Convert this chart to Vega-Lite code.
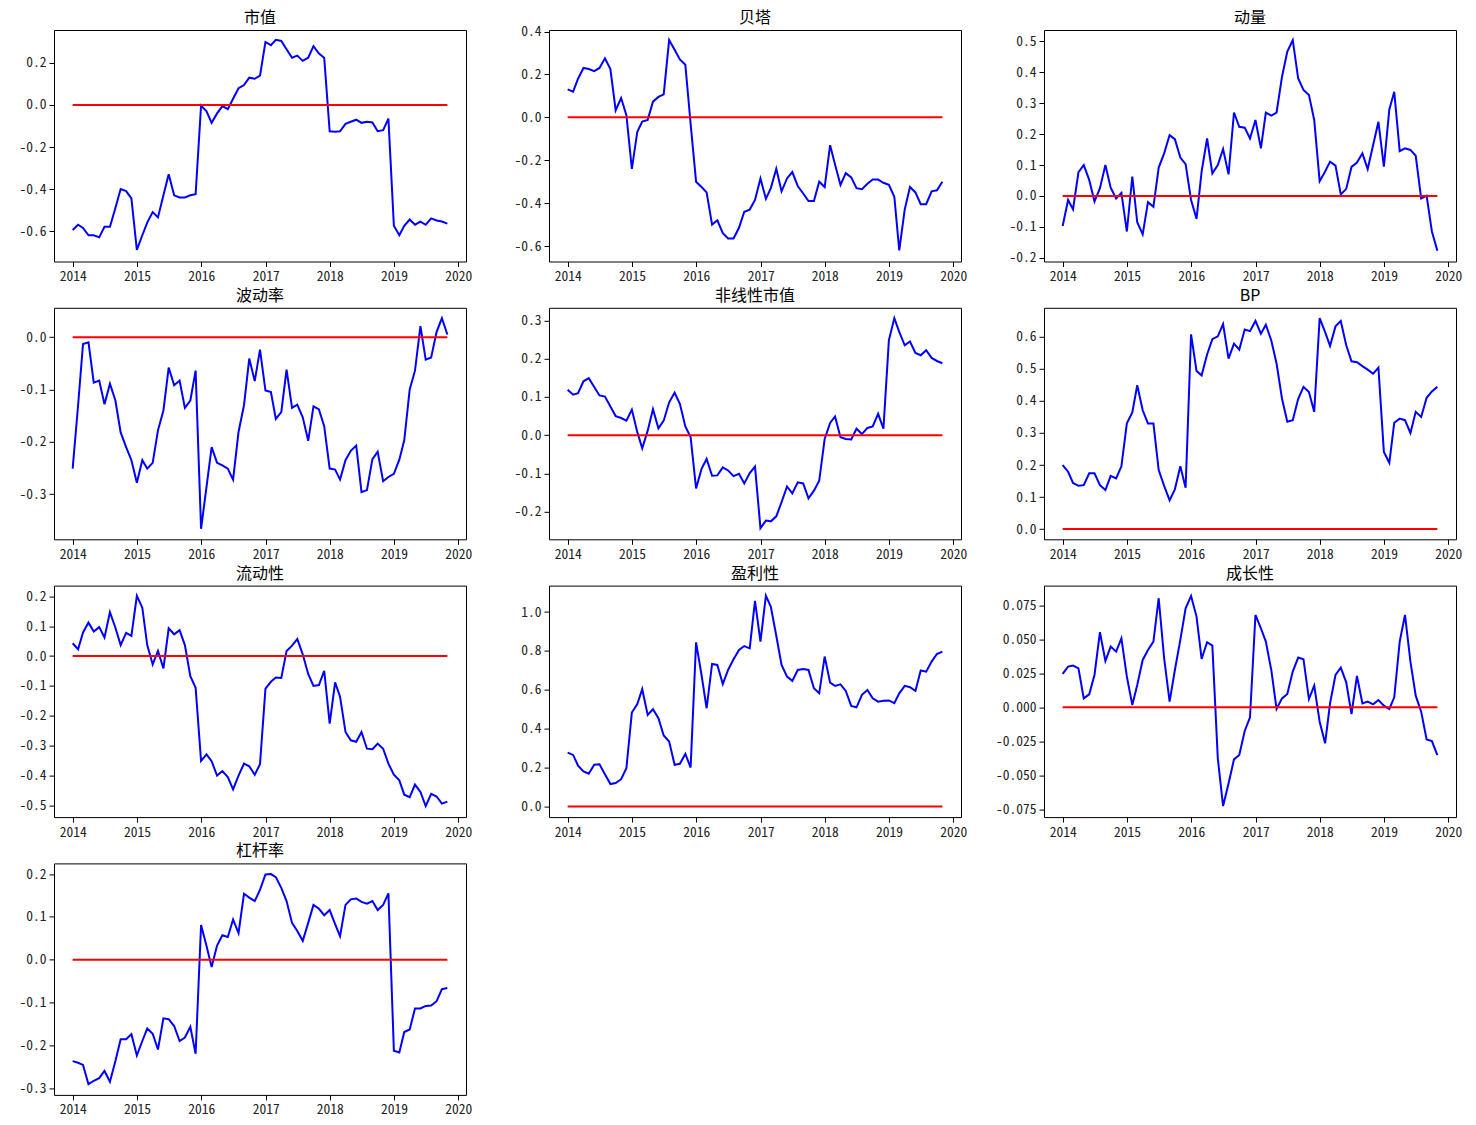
{
"$schema": "https://vega.github.io/schema/vega-lite/v6.json",
"padding": {"left": 18, "top": 9, "right": 5, "bottom": 5},
"background": "white",
"data": {"values": [
{"date":"2013-12-31","size":-0.595,"beta":0.13,"momentum":-0.097,"volatility":-0.251,"nonlinear":0.119,"bp":0.20,"liquidity":0.043,"profit":0.277,"growth":0.0246,"leverage":-0.237},
{"date":"2014-01-31","size":-0.57,"beta":0.12,"momentum":-0.013,"volatility":-0.13,"nonlinear":0.106,"bp":0.179,"liquidity":0.023,"profit":0.265,"growth":0.030,"leverage":-0.241},
{"date":"2014-02-28","size":-0.585,"beta":0.18,"momentum":-0.043,"volatility":-0.013,"nonlinear":0.11,"bp":0.144,"liquidity":0.079,"profit":0.21,"growth":0.0307,"leverage":-0.246},
{"date":"2014-03-31","size":-0.62,"beta":0.23,"momentum":0.077,"volatility":-0.01,"nonlinear":0.141,"bp":0.135,"liquidity":0.112,"profit":0.18,"growth":0.0287,"leverage":-0.291},
{"date":"2014-04-30","size":-0.62,"beta":0.225,"momentum":0.10,"volatility":-0.087,"nonlinear":0.149,"bp":0.137,"liquidity":0.082,"profit":0.168,"growth":0.0066,"leverage":-0.283},
{"date":"2014-05-31","size":-0.63,"beta":0.215,"momentum":0.052,"volatility":-0.083,"nonlinear":0.126,"bp":0.174,"liquidity":0.097,"profit":0.214,"growth":0.0096,"leverage":-0.277},
{"date":"2014-06-30","size":-0.58,"beta":0.23,"momentum":-0.018,"volatility":-0.128,"nonlinear":0.104,"bp":0.174,"liquidity":0.062,"profit":0.217,"growth":0.0238,"leverage":-0.26},
{"date":"2014-07-31","size":-0.58,"beta":0.275,"momentum":0.025,"volatility":-0.089,"nonlinear":0.101,"bp":0.137,"liquidity":0.147,"profit":0.166,"growth":0.0553,"leverage":-0.285},
{"date":"2014-08-31","size":-0.49,"beta":0.225,"momentum":0.10,"volatility":-0.121,"nonlinear":0.075,"bp":0.122,"liquidity":0.095,"profit":0.115,"growth":0.0341,"leverage":-0.237},
{"date":"2014-09-30","size":-0.40,"beta":0.033,"momentum":0.027,"volatility":-0.182,"nonlinear":0.05,"bp":0.166,"liquidity":0.037,"profit":0.12,"growth":0.0447,"leverage":-0.186},
{"date":"2014-10-31","size":-0.41,"beta":0.09,"momentum":-0.008,"volatility":-0.21,"nonlinear":0.045,"bp":0.158,"liquidity":0.078,"profit":0.14,"growth":0.041,"leverage":-0.186},
{"date":"2014-11-30","size":-0.445,"beta":0.01,"momentum":0.01,"volatility":-0.235,"nonlinear":0.038,"bp":0.196,"liquidity":0.068,"profit":0.197,"growth":0.0508,"leverage":-0.174},
{"date":"2014-12-31","size":-0.69,"beta":-0.24,"momentum":-0.115,"volatility":-0.278,"nonlinear":0.067,"bp":0.33,"liquidity":0.202,"profit":0.483,"growth":0.0226,"leverage":-0.224},
{"date":"2015-01-31","size":-0.62,"beta":-0.067,"momentum":0.063,"volatility":-0.235,"nonlinear":0.008,"bp":0.364,"liquidity":0.162,"profit":0.526,"growth":0.0017,"leverage":-0.19},
{"date":"2015-02-28","size":-0.56,"beta":-0.02,"momentum":-0.085,"volatility":-0.251,"nonlinear":-0.034,"bp":0.449,"liquidity":0.037,"profit":0.603,"growth":0.0165,"leverage":-0.161},
{"date":"2015-03-31","size":-0.51,"beta":-0.012,"momentum":-0.124,"volatility":-0.24,"nonlinear":0.012,"bp":0.371,"liquidity":-0.028,"profit":0.471,"growth":0.0349,"leverage":-0.173},
{"date":"2015-04-30","size":-0.535,"beta":0.073,"momentum":-0.02,"volatility":-0.178,"nonlinear":0.068,"bp":0.33,"liquidity":0.017,"profit":0.50,"growth":0.0422,"leverage":-0.21},
{"date":"2015-05-31","size":-0.43,"beta":0.095,"momentum":-0.035,"volatility":-0.14,"nonlinear":0.018,"bp":0.33,"liquidity":-0.041,"profit":0.454,"growth":0.0484,"leverage":-0.137},
{"date":"2015-06-30","size":-0.33,"beta":0.107,"momentum":0.092,"volatility":-0.058,"nonlinear":0.038,"bp":0.184,"liquidity":0.093,"profit":0.365,"growth":0.0803,"leverage":-0.139},
{"date":"2015-07-31","size":-0.43,"beta":0.36,"momentum":0.138,"volatility":-0.092,"nonlinear":0.086,"bp":0.135,"liquidity":0.073,"profit":0.334,"growth":0.0361,"leverage":-0.155},
{"date":"2015-08-31","size":-0.44,"beta":0.315,"momentum":0.197,"volatility":-0.083,"nonlinear":0.111,"bp":0.09,"liquidity":0.087,"profit":0.214,"growth":0.0042,"leverage":-0.19},
{"date":"2015-09-30","size":-0.44,"beta":0.27,"momentum":0.184,"volatility":-0.135,"nonlinear":0.082,"bp":0.124,"liquidity":0.037,"profit":0.219,"growth":0.0275,"leverage":-0.182},
{"date":"2015-10-31","size":-0.43,"beta":0.245,"momentum":0.124,"volatility":-0.121,"nonlinear":0.023,"bp":0.196,"liquidity":-0.067,"profit":0.27,"growth":0.0496,"leverage":-0.157},
{"date":"2015-11-30","size":-0.425,"beta":-0.03,"momentum":0.103,"volatility":-0.064,"nonlinear":-0.005,"bp":0.129,"liquidity":-0.106,"profit":0.20,"growth":0.0729,"leverage":-0.22},
{"date":"2015-12-31","size":-0.003,"beta":-0.30,"momentum":-0.013,"volatility":-0.366,"nonlinear":-0.139,"bp":0.608,"liquidity":-0.351,"profit":0.844,"growth":0.082,"leverage":0.081},
{"date":"2016-01-31","size":-0.03,"beta":-0.325,"momentum":-0.074,"volatility":-0.286,"nonlinear":-0.088,"bp":0.494,"liquidity":-0.329,"profit":0.676,"growth":0.0668,"leverage":0.032},
{"date":"2016-02-29","size":-0.085,"beta":-0.35,"momentum":0.079,"volatility":-0.21,"nonlinear":-0.062,"bp":0.48,"liquidity":-0.352,"profit":0.505,"growth":0.0356,"leverage":-0.017},
{"date":"2016-03-31","size":-0.04,"beta":-0.50,"momentum":0.186,"volatility":-0.24,"nonlinear":-0.106,"bp":0.545,"liquidity":-0.40,"profit":0.733,"growth":0.0479,"leverage":0.033},
{"date":"2016-04-30","size":-0.005,"beta":-0.48,"momentum":0.073,"volatility":-0.245,"nonlinear":-0.105,"bp":0.593,"liquidity":-0.385,"profit":0.728,"growth":0.0454,"leverage":0.057},
{"date":"2016-05-31","size":-0.02,"beta":-0.54,"momentum":0.10,"volatility":-0.251,"nonlinear":-0.084,"bp":0.602,"liquidity":-0.405,"profit":0.63,"growth":-0.0376,"leverage":0.053},
{"date":"2016-06-30","size":0.03,"beta":-0.565,"momentum":0.152,"volatility":-0.272,"nonlinear":-0.092,"bp":0.64,"liquidity":-0.446,"profit":0.702,"growth":-0.0727,"leverage":0.094},
{"date":"2016-07-31","size":0.08,"beta":-0.565,"momentum":0.07,"volatility":-0.181,"nonlinear":-0.107,"bp":0.532,"liquidity":-0.40,"profit":0.757,"growth":-0.056,"leverage":0.062},
{"date":"2016-08-31","size":0.095,"beta":-0.515,"momentum":0.27,"volatility":-0.13,"nonlinear":-0.101,"bp":0.579,"liquidity":-0.36,"profit":0.805,"growth":-0.0383,"leverage":0.154},
{"date":"2016-09-30","size":0.13,"beta":-0.44,"momentum":0.224,"volatility":-0.041,"nonlinear":-0.126,"bp":0.56,"liquidity":-0.369,"profit":0.825,"growth":-0.0351,"leverage":0.145},
{"date":"2016-10-31","size":0.125,"beta":-0.43,"momentum":0.221,"volatility":-0.084,"nonlinear":-0.099,"bp":0.623,"liquidity":-0.397,"profit":0.813,"growth":-0.0174,"leverage":0.137},
{"date":"2016-11-30","size":0.14,"beta":-0.385,"momentum":0.186,"volatility":-0.024,"nonlinear":-0.082,"bp":0.618,"liquidity":-0.362,"profit":1.057,"growth":-0.0074,"leverage":0.163},
{"date":"2016-12-31","size":0.30,"beta":-0.285,"momentum":0.246,"volatility":-0.102,"nonlinear":-0.243,"bp":0.65,"liquidity":-0.109,"profit":0.848,"growth":0.068,"leverage":0.199},
{"date":"2017-01-31","size":0.285,"beta":-0.38,"momentum":0.154,"volatility":-0.105,"nonlinear":-0.223,"bp":0.61,"liquidity":-0.086,"profit":1.084,"growth":0.0582,"leverage":0.20},
{"date":"2017-02-28","size":0.31,"beta":-0.33,"momentum":0.27,"volatility":-0.156,"nonlinear":-0.225,"bp":0.638,"liquidity":-0.072,"profit":1.027,"growth":0.0484,"leverage":0.193},
{"date":"2017-03-31","size":0.305,"beta":-0.24,"momentum":0.26,"volatility":-0.143,"nonlinear":-0.212,"bp":0.589,"liquidity":-0.073,"profit":0.878,"growth":0.0275,"leverage":0.168},
{"date":"2017-04-30","size":0.265,"beta":-0.345,"momentum":0.27,"volatility":-0.062,"nonlinear":-0.175,"bp":0.517,"liquidity":0.017,"profit":0.728,"growth":-0.0012,"leverage":0.137},
{"date":"2017-05-31","size":0.225,"beta":-0.285,"momentum":0.386,"volatility":-0.135,"nonlinear":-0.134,"bp":0.407,"liquidity":0.035,"profit":0.668,"growth":0.0066,"leverage":0.086},
{"date":"2017-06-30","size":0.235,"beta":-0.255,"momentum":0.467,"volatility":-0.129,"nonlinear":-0.152,"bp":0.335,"liquidity":0.057,"profit":0.646,"growth":0.0098,"leverage":0.067},
{"date":"2017-07-31","size":0.21,"beta":-0.32,"momentum":0.504,"volatility":-0.153,"nonlinear":-0.123,"bp":0.34,"liquidity":0.006,"profit":0.702,"growth":0.0263,"leverage":0.044},
{"date":"2017-08-31","size":0.225,"beta":-0.355,"momentum":0.38,"volatility":-0.198,"nonlinear":-0.126,"bp":0.407,"liquidity":-0.06,"profit":0.707,"growth":0.0366,"leverage":0.086},
{"date":"2017-09-30","size":0.28,"beta":-0.39,"momentum":0.343,"volatility":-0.132,"nonlinear":-0.165,"bp":0.444,"liquidity":-0.10,"profit":0.702,"growth":0.0354,"leverage":0.128},
{"date":"2017-10-31","size":0.245,"beta":-0.39,"momentum":0.327,"volatility":-0.138,"nonlinear":-0.145,"bp":0.428,"liquidity":-0.097,"profit":0.608,"growth":0.0061,"leverage":0.119},
{"date":"2017-11-30","size":0.225,"beta":-0.30,"momentum":0.246,"volatility":-0.17,"nonlinear":-0.119,"bp":0.366,"liquidity":-0.049,"profit":0.582,"growth":0.016,"leverage":0.104},
{"date":"2017-12-31","size":-0.125,"beta":-0.325,"momentum":0.048,"volatility":-0.251,"nonlinear":-0.01,"bp":0.659,"liquidity":-0.226,"profit":0.771,"growth":-0.0106,"leverage":0.116},
{"date":"2018-01-31","size":-0.127,"beta":-0.13,"momentum":0.079,"volatility":-0.253,"nonlinear":0.032,"bp":0.615,"liquidity":-0.088,"profit":0.637,"growth":-0.0265,"leverage":0.083},
{"date":"2018-02-28","size":-0.125,"beta":-0.22,"momentum":0.111,"volatility":-0.272,"nonlinear":0.049,"bp":0.572,"liquidity":-0.136,"profit":0.62,"growth":0.0029,"leverage":0.055},
{"date":"2018-03-31","size":-0.09,"beta":-0.315,"momentum":0.098,"volatility":-0.235,"nonlinear":-0.005,"bp":0.633,"liquidity":-0.254,"profit":0.628,"growth":0.0238,"leverage":0.128},
{"date":"2018-04-30","size":-0.08,"beta":-0.26,"momentum":0.005,"volatility":-0.217,"nonlinear":-0.01,"bp":0.65,"liquidity":-0.282,"profit":0.594,"growth":0.0292,"leverage":0.141},
{"date":"2018-05-31","size":-0.07,"beta":-0.28,"momentum":0.023,"volatility":-0.207,"nonlinear":-0.011,"bp":0.574,"liquidity":-0.287,"profit":0.517,"growth":0.0184,"leverage":0.143},
{"date":"2018-06-30","size":-0.085,"beta":-0.33,"momentum":0.094,"volatility":-0.296,"nonlinear":0.017,"bp":0.524,"liquidity":-0.254,"profit":0.51,"growth":-0.0049,"leverage":0.135},
{"date":"2018-07-31","size":-0.08,"beta":-0.335,"momentum":0.108,"volatility":-0.292,"nonlinear":0.003,"bp":0.521,"liquidity":-0.31,"profit":0.574,"growth":0.0231,"leverage":0.131},
{"date":"2018-08-31","size":-0.083,"beta":-0.31,"momentum":0.138,"volatility":-0.233,"nonlinear":0.019,"bp":0.509,"liquidity":-0.312,"profit":0.599,"growth":0.0029,"leverage":0.137},
{"date":"2018-09-30","size":-0.125,"beta":-0.29,"momentum":0.087,"volatility":-0.219,"nonlinear":0.023,"bp":0.498,"liquidity":-0.293,"profit":0.556,"growth":0.0042,"leverage":0.116},
{"date":"2018-10-31","size":-0.12,"beta":-0.29,"momentum":0.165,"volatility":-0.275,"nonlinear":0.056,"bp":0.485,"liquidity":-0.31,"profit":0.539,"growth":0.0022,"leverage":0.128},
{"date":"2018-11-30","size":-0.065,"beta":-0.305,"momentum":0.24,"volatility":-0.267,"nonlinear":0.017,"bp":0.504,"liquidity":-0.36,"profit":0.543,"growth":0.0054,"leverage":0.155},
{"date":"2018-12-31","size":-0.575,"beta":-0.315,"momentum":0.095,"volatility":-0.261,"nonlinear":0.248,"bp":0.241,"liquidity":-0.397,"profit":0.545,"growth":0.0012,"leverage":-0.213},
{"date":"2019-01-31","size":-0.62,"beta":-0.37,"momentum":0.28,"volatility":-0.234,"nonlinear":0.306,"bp":0.207,"liquidity":-0.416,"profit":0.531,"growth":-0.0012,"leverage":-0.217},
{"date":"2019-02-28","size":-0.575,"beta":-0.62,"momentum":0.337,"volatility":-0.197,"nonlinear":0.27,"bp":0.332,"liquidity":-0.464,"profit":0.582,"growth":0.0074,"leverage":-0.169},
{"date":"2019-03-31","size":-0.545,"beta":-0.43,"momentum":0.145,"volatility":-0.10,"nonlinear":0.235,"bp":0.345,"liquidity":-0.472,"profit":0.62,"growth":0.0484,"leverage":-0.163},
{"date":"2019-04-30","size":-0.57,"beta":-0.325,"momentum":0.154,"volatility":-0.064,"nonlinear":0.245,"bp":0.34,"liquidity":-0.43,"profit":0.613,"growth":0.068,"leverage":-0.114},
{"date":"2019-05-31","size":-0.555,"beta":-0.35,"momentum":0.149,"volatility":0.021,"nonlinear":0.215,"bp":0.30,"liquidity":-0.455,"profit":0.594,"growth":0.0336,"leverage":-0.114},
{"date":"2019-06-30","size":-0.57,"beta":-0.405,"momentum":0.13,"volatility":-0.043,"nonlinear":0.209,"bp":0.366,"liquidity":-0.502,"profit":0.699,"growth":0.0086,"leverage":-0.108},
{"date":"2019-07-31","size":-0.54,"beta":-0.405,"momentum":-0.008,"volatility":-0.039,"nonlinear":0.222,"bp":0.35,"liquidity":-0.461,"profit":0.693,"growth":-0.0032,"leverage":-0.107},
{"date":"2019-08-31","size":-0.55,"beta":-0.345,"momentum":0.001,"volatility":0.01,"nonlinear":0.202,"bp":0.41,"liquidity":-0.47,"profit":0.745,"growth":-0.0236,"leverage":-0.097},
{"date":"2019-09-30","size":-0.555,"beta":-0.34,"momentum":-0.115,"volatility":0.036,"nonlinear":0.194,"bp":0.43,"liquidity":-0.494,"profit":0.784,"growth":-0.0248,"leverage":-0.069},
{"date":"2019-10-31","size":-0.565,"beta":-0.30,"momentum":-0.177,"volatility":0.005,"nonlinear":0.188,"bp":0.444,"liquidity":-0.487,"profit":0.796,"growth":-0.0351,"leverage":-0.066}
]},
"columns": 3,
"spacing": {"row": 45.8, "column": 83},
"bounds": "flush",
"concat": [
{"title": "市值", "width": 412, "height": 231.5,
 "encoding": {"x": {"field": "date", "type": "temporal", "scale": {"type": "utc", "domain": [{"year": 2013, "month": 9, "date": 16, "utc": true}, {"year": 2020, "month": 2, "date": 14, "utc": true}], "nice": false}, "axis": {"title": null, "format": "%Y", "tickCount": {"interval": "year", "step": 1}}}},
 "layer": [
  {"mark": {"type": "line", "color": "#0000ff", "strokeWidth": 2}, "encoding": {"y": {"field": "size", "type": "quantitative", "scale": {"domain": [-0.745, 0.357], "nice": false, "zero": false}, "axis": {"title": null, "values": [-0.6, -0.4, -0.2, 0, 0.2], "format": ".1f"}}}},
  {"mark": {"type": "line", "color": "#ff0000", "strokeWidth": 2}, "encoding": {"y": {"datum": 0, "type": "quantitative", "axis": {"title": null, "values": [-0.6, -0.4, -0.2, 0, 0.2], "format": ".1f"}}}}
 ]},
{"title": {"text": "贝塔", "dy": 5}, "width": 412, "height": 231.5,
 "encoding": {"x": {"field": "date", "type": "temporal", "scale": {"type": "utc", "domain": [{"year": 2013, "month": 9, "date": 16, "utc": true}, {"year": 2020, "month": 2, "date": 14, "utc": true}], "nice": false}, "axis": {"title": null, "format": "%Y", "tickCount": {"interval": "year", "step": 1}}}},
 "layer": [
  {"mark": {"type": "line", "color": "#0000ff", "strokeWidth": 2}, "encoding": {"y": {"field": "beta", "type": "quantitative", "scale": {"domain": [-0.672, 0.407], "nice": false, "zero": false}, "axis": {"title": null, "values": [-0.6, -0.4, -0.2, 0, 0.2, 0.4], "format": ".1f"}}}},
  {"mark": {"type": "line", "color": "#ff0000", "strokeWidth": 2}, "encoding": {"y": {"datum": 0, "type": "quantitative", "axis": {"title": null, "values": [-0.6, -0.4, -0.2, 0, 0.2, 0.4], "format": ".1f"}}}}
 ]},
{"title": "动量", "width": 412, "height": 231.5,
 "encoding": {"x": {"field": "date", "type": "temporal", "scale": {"type": "utc", "domain": [{"year": 2013, "month": 9, "date": 16, "utc": true}, {"year": 2020, "month": 2, "date": 14, "utc": true}], "nice": false}, "axis": {"title": null, "format": "%Y", "tickCount": {"interval": "year", "step": 1}}}},
 "layer": [
  {"mark": {"type": "line", "color": "#0000ff", "strokeWidth": 2}, "encoding": {"y": {"field": "momentum", "type": "quantitative", "scale": {"domain": [-0.212, 0.537], "nice": false, "zero": false}, "axis": {"title": null, "values": [-0.2, -0.1, 0, 0.1, 0.2, 0.3, 0.4, 0.5], "format": ".1f"}}}},
  {"mark": {"type": "line", "color": "#ff0000", "strokeWidth": 2}, "encoding": {"y": {"datum": 0, "type": "quantitative", "axis": {"title": null, "values": [-0.2, -0.1, 0, 0.1, 0.2, 0.3, 0.4, 0.5], "format": ".1f"}}}}
 ]},
{"title": "波动率", "width": 412, "height": 231.5,
 "encoding": {"x": {"field": "date", "type": "temporal", "scale": {"type": "utc", "domain": [{"year": 2013, "month": 9, "date": 16, "utc": true}, {"year": 2020, "month": 2, "date": 14, "utc": true}], "nice": false}, "axis": {"title": null, "format": "%Y", "tickCount": {"interval": "year", "step": 1}}}},
 "layer": [
  {"mark": {"type": "line", "color": "#0000ff", "strokeWidth": 2}, "encoding": {"y": {"field": "volatility", "type": "quantitative", "scale": {"domain": [-0.386, 0.056], "nice": false, "zero": false}, "axis": {"title": null, "values": [-0.3, -0.2, -0.1, 0], "format": ".1f"}}}},
  {"mark": {"type": "line", "color": "#ff0000", "strokeWidth": 2}, "encoding": {"y": {"datum": 0, "type": "quantitative", "axis": {"title": null, "values": [-0.3, -0.2, -0.1, 0], "format": ".1f"}}}}
 ]},
{"title": "非线性市值", "width": 412, "height": 231.5,
 "encoding": {"x": {"field": "date", "type": "temporal", "scale": {"type": "utc", "domain": [{"year": 2013, "month": 9, "date": 16, "utc": true}, {"year": 2020, "month": 2, "date": 14, "utc": true}], "nice": false}, "axis": {"title": null, "format": "%Y", "tickCount": {"interval": "year", "step": 1}}}},
 "layer": [
  {"mark": {"type": "line", "color": "#0000ff", "strokeWidth": 2}, "encoding": {"y": {"field": "nonlinear", "type": "quantitative", "scale": {"domain": [-0.272, 0.333], "nice": false, "zero": false}, "axis": {"title": null, "values": [-0.2, -0.1, 0, 0.1, 0.2, 0.3], "format": ".1f"}}}},
  {"mark": {"type": "line", "color": "#ff0000", "strokeWidth": 2}, "encoding": {"y": {"datum": 0, "type": "quantitative", "axis": {"title": null, "values": [-0.2, -0.1, 0, 0.1, 0.2, 0.3], "format": ".1f"}}}}
 ]},
{"title": "BP", "width": 412, "height": 231.5,
 "encoding": {"x": {"field": "date", "type": "temporal", "scale": {"type": "utc", "domain": [{"year": 2013, "month": 9, "date": 16, "utc": true}, {"year": 2020, "month": 2, "date": 14, "utc": true}], "nice": false}, "axis": {"title": null, "format": "%Y", "tickCount": {"interval": "year", "step": 1}}}},
 "layer": [
  {"mark": {"type": "line", "color": "#0000ff", "strokeWidth": 2}, "encoding": {"y": {"field": "bp", "type": "quantitative", "scale": {"domain": [-0.032, 0.691], "nice": false, "zero": false}, "axis": {"title": null, "values": [0, 0.1, 0.2, 0.3, 0.4, 0.5, 0.6], "format": ".1f"}}}},
  {"mark": {"type": "line", "color": "#ff0000", "strokeWidth": 2}, "encoding": {"y": {"datum": 0, "type": "quantitative", "axis": {"title": null, "values": [0, 0.1, 0.2, 0.3, 0.4, 0.5, 0.6], "format": ".1f"}}}}
 ]},
{"title": "流动性", "width": 412, "height": 231.5,
 "encoding": {"x": {"field": "date", "type": "temporal", "scale": {"type": "utc", "domain": [{"year": 2013, "month": 9, "date": 16, "utc": true}, {"year": 2020, "month": 2, "date": 14, "utc": true}], "nice": false}, "axis": {"title": null, "format": "%Y", "tickCount": {"interval": "year", "step": 1}}}},
 "layer": [
  {"mark": {"type": "line", "color": "#0000ff", "strokeWidth": 2}, "encoding": {"y": {"field": "liquidity", "type": "quantitative", "scale": {"domain": [-0.539, 0.236], "nice": false, "zero": false}, "axis": {"title": null, "values": [-0.5, -0.4, -0.3, -0.2, -0.1, 0, 0.1, 0.2], "format": ".1f"}}}},
  {"mark": {"type": "line", "color": "#ff0000", "strokeWidth": 2}, "encoding": {"y": {"datum": 0, "type": "quantitative", "axis": {"title": null, "values": [-0.5, -0.4, -0.3, -0.2, -0.1, 0, 0.1, 0.2], "format": ".1f"}}}}
 ]},
{"title": "盈利性", "width": 412, "height": 231.5,
 "encoding": {"x": {"field": "date", "type": "temporal", "scale": {"type": "utc", "domain": [{"year": 2013, "month": 9, "date": 16, "utc": true}, {"year": 2020, "month": 2, "date": 14, "utc": true}], "nice": false}, "axis": {"title": null, "format": "%Y", "tickCount": {"interval": "year", "step": 1}}}},
 "layer": [
  {"mark": {"type": "line", "color": "#0000ff", "strokeWidth": 2}, "encoding": {"y": {"field": "profit", "type": "quantitative", "scale": {"domain": [-0.055, 1.136], "nice": false, "zero": false}, "axis": {"title": null, "values": [0, 0.2, 0.4, 0.6, 0.8, 1.0], "format": ".1f"}}}},
  {"mark": {"type": "line", "color": "#ff0000", "strokeWidth": 2}, "encoding": {"y": {"datum": 0, "type": "quantitative", "axis": {"title": null, "values": [0, 0.2, 0.4, 0.6, 0.8, 1.0], "format": ".1f"}}}}
 ]},
{"title": "成长性", "width": 412, "height": 231.5,
 "encoding": {"x": {"field": "date", "type": "temporal", "scale": {"type": "utc", "domain": [{"year": 2013, "month": 9, "date": 16, "utc": true}, {"year": 2020, "month": 2, "date": 14, "utc": true}], "nice": false}, "axis": {"title": null, "format": "%Y", "tickCount": {"interval": "year", "step": 1}}}},
 "layer": [
  {"mark": {"type": "line", "color": "#0000ff", "strokeWidth": 2}, "encoding": {"y": {"field": "growth", "type": "quantitative", "scale": {"domain": [-0.0808, 0.0896], "nice": false, "zero": false}, "axis": {"title": null, "values": [-0.075, -0.05, -0.025, 0, 0.025, 0.05, 0.075], "format": ".3f"}}}},
  {"mark": {"type": "line", "color": "#ff0000", "strokeWidth": 2}, "encoding": {"y": {"datum": 0, "type": "quantitative", "axis": {"title": null, "values": [-0.075, -0.05, -0.025, 0, 0.025, 0.05, 0.075], "format": ".3f"}}}}
 ]},
{"title": "杠杆率", "width": 412, "height": 231.5,
 "encoding": {"x": {"field": "date", "type": "temporal", "scale": {"type": "utc", "domain": [{"year": 2013, "month": 9, "date": 16, "utc": true}, {"year": 2020, "month": 2, "date": 14, "utc": true}], "nice": false}, "axis": {"title": null, "format": "%Y", "tickCount": {"interval": "year", "step": 1}}}},
 "layer": [
  {"mark": {"type": "line", "color": "#0000ff", "strokeWidth": 2}, "encoding": {"y": {"field": "leverage", "type": "quantitative", "scale": {"domain": [-0.316, 0.225], "nice": false, "zero": false}, "axis": {"title": null, "values": [-0.3, -0.2, -0.1, 0, 0.1, 0.2], "format": ".1f"}}}},
  {"mark": {"type": "line", "color": "#ff0000", "strokeWidth": 2}, "encoding": {"y": {"datum": 0, "type": "quantitative", "axis": {"title": null, "values": [-0.3, -0.2, -0.1, 0, 0.1, 0.2], "format": ".1f"}}}}
 ]}
],
"config": {
  "font": "Noto Sans CJK SC",
  "view": {"stroke": "#000000", "strokeWidth": 1},
  "axis": {"grid": false, "domain": false, "ticks": true, "tickColor": "#000000", "tickSize": 5, "tickWidth": 1, "labelColor": "#222222", "labelFont": "Noto Sans Mono CJK SC, Noto Sans CJK SC, sans-serif", "labelFontSize": 13.5, "labelPadding": 3, "labelFlush": false, "labelBound": false, "labelOverlap": false},
  "title": {"fontSize": 16, "fontWeight": "normal", "color": "#000000", "offset": 4, "anchor": "middle", "frame": "group", "font": "Noto Sans CJK SC"},
  "locale": {"number": {"decimal": ".", "thousands": ",", "grouping": [3], "currency": ["", ""], "minus": "-"}}
}
}
